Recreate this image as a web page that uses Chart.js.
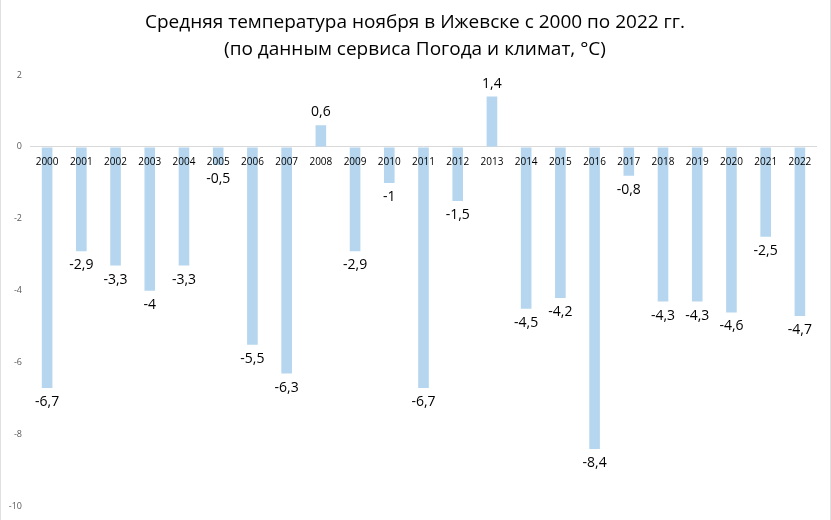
<!DOCTYPE html>
<html>
<head>
<meta charset="utf-8">
<script src="https://cdn.jsdelivr.net/npm/chart.js@4.4.0/dist/chart.umd.min.js"></script>
<style>
  html, body { margin: 0; padding: 0; background: #fff; }
  #wrap { width: 831px; height: 520px; position: relative; }
</style>
</head>
<body>
<div id="wrap"><canvas id="chart"></canvas></div>
<script>
// data
const years = ["2000","2001","2002","2003","2004","2005","2006","2007","2008","2009","2010","2011",
  "2012","2013","2014","2015","2016","2017","2018","2019","2020","2021","2022"];
const temps = [-6.7,-2.9,-3.3,-4,-3.3,-0.5,-5.5,-6.3,0.6,-2.9,-1,-6.7,-1.5,1.4,-4.5,-4.2,-8.4,-0.8,-4.3,-4.3,-4.6,-2.5,-4.7];
const titleLines = ["Средняя температура ноября в Ижевске с 2000 по 2022 гг.",
  "(по данным сервиса Погода и климат, °C)"];

const FONT = "'Open Sans', 'Noto Sans', sans-serif";

function fmt(v) {
  return String(v).replace(".", ",");
}

// year labels sit on the zero line, values next to bar ends
const labelsPlugin = {
  id: "labelsPlugin",
  afterDatasetsDraw(chart) {
    const ctx = chart.ctx;
    const y = chart.scales.y;
    const meta = chart.getDatasetMeta(0);
    const zeroY = y.getPixelForValue(0);
    ctx.save();
    ctx.textAlign = "center";
    ctx.textBaseline = "middle";
    meta.data.forEach((bar, i) => {
      ctx.fillStyle = "#000";
      ctx.font = "10px " + FONT;
      ctx.fillText(years[i], bar.x, zeroY + 15);
      ctx.font = "14px " + FONT;
      const v = temps[i];
      if (v < 0) ctx.fillText(fmt(v), bar.x, bar.y + 14);
      else ctx.fillText(fmt(v), bar.x, bar.y - 13);
    });
    ctx.restore();
  },
  afterDraw(chart) {
    const ctx = chart.ctx;
    ctx.save();
    ctx.fillStyle = "#000";
    ctx.textAlign = "center";
    ctx.textBaseline = "middle";
    ctx.font = "19px " + FONT;
    ctx.fillText(titleLines[0], 415, 23);
    ctx.fillText(titleLines[1], 415, 50);
    // faint frame edges, as in the picture
    ctx.strokeStyle = "#e0e0e0";
    ctx.lineWidth = 1;
    ctx.beginPath();
    ctx.moveTo(0.5, 0); ctx.lineTo(0.5, 520);
    ctx.moveTo(830.5, 0); ctx.lineTo(830.5, 520);
    ctx.stroke();
    ctx.restore();
  }
};

new Chart(document.getElementById("chart"), {
  type: "bar",
  data: {
    labels: years,
    datasets: [{
      data: temps,
      backgroundColor: "#b5d6ee",
      borderWidth: 0,
      barPercentage: 0.31,
      categoryPercentage: 1
    }]
  },
  options: {
    responsive: true,
    maintainAspectRatio: false,
    animation: false,
    layout: { padding: { top: 75, bottom: 7, right: 14, left: 0 } },
    plugins: { legend: { display: false }, tooltip: { enabled: false }, title: { display: false } },
    scales: {
      x: { display: false },
      y: {
        min: -10, max: 2,
        ticks: { stepSize: 2, color: "#595959", font: { size: 9, family: FONT }, padding: 8 },
        border: { display: false },
        grid: {
          drawTicks: false,
          color: c => (c.tick && c.tick.value === 0) ? "#d9d9d9" : "transparent"
        },
        afterFit(scale) { scale.width = 30; }
      }
    }
  },
  plugins: [labelsPlugin]
});
</script>
</body>
</html>
